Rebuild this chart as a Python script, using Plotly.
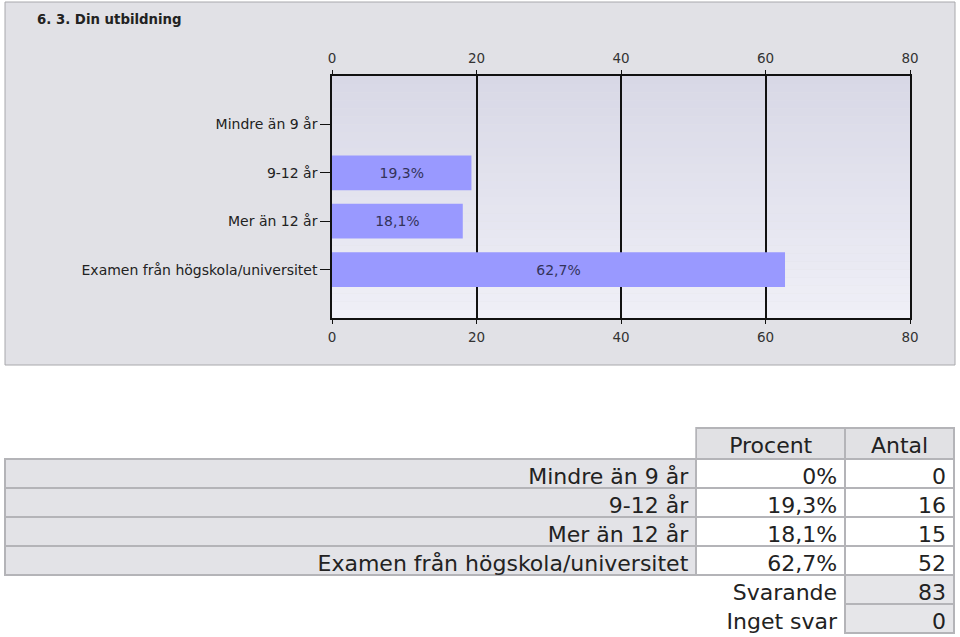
import plotly.graph_objects as go

# ---- data ----
title_text = "6. 3. Din utbildning"
categories = ["Mindre än 9 år", "9-12 år", "Mer än 12 år", "Examen från högskola/universitet"]
percent = [0.0, 19.3, 18.1, 62.7]
counts = [0, 16, 15, 52]
summary_labels = ["Svarande", "Inget svar"]
summary_values = [83, 0]
x_ticks = [0, 20, 40, 60, 80]
table_headers = ["", "Procent", "Antal"]

W, H = 960, 637
FONT = "DejaVu Sans"

def px_x(v):
    return v / W

def px_y(v):
    return (H - v) / H

def fmt_pct(v):
    s = f"{v:g}"
    return s.replace(".", ",") + "%"

bar_text = [fmt_pct(v) if v > 0 else "" for v in percent]

fig = go.Figure()

fig.add_trace(go.Bar(
    x=percent, y=categories, orientation="h",
    marker=dict(color="#9999ff", line=dict(width=0)),
    width=0.72,
    text=bar_text, textposition="inside", insidetextanchor="middle",
    textfont=dict(family=FONT, size=14, color="#33335a"),
    textangle=0,
    cliponaxis=False,
    hoverinfo="skip", showlegend=False,
))
# invisible trace to carry the top axis
fig.add_trace(go.Scatter(
    x=percent, y=categories, xaxis="x2", mode="markers",
    marker=dict(opacity=0), hoverinfo="skip", showlegend=False,
))

# table
n = len(categories)
gray_line = "#b4b4b8"
clear = "rgba(0,0,0,0)"
fig.add_trace(go.Table(
    domain=dict(x=[px_x(5), px_x(955)], y=[0, px_y(428)]),
    columnwidth=[692, 149, 109],
    header=dict(
        values=table_headers,
        fill=dict(color=[clear, "#e1e1e4", "#e1e1e4"]),
        line=dict(color=[clear, gray_line, gray_line], width=2),
        font=dict(family=FONT, size=22, color="#222222"),
        align="center", height=31,
    ),
    cells=dict(
        values=[
            categories + ["", ""],
            [fmt_pct(v) for v in percent] + summary_labels,
            [str(c) for c in counts] + [str(v) for v in summary_values],
        ],
        fill=dict(color=[
            ["#e3e3e7"] * n + [clear] * 2,
            ["white"] * n + [clear] * 2,
            ["white"] * n + ["#e6e6e9"] * 2,
        ]),
        line=dict(color=[
            [gray_line] * n + [clear] * 2,
            [gray_line] * n + [clear] * 2,
            [gray_line] * (n + 2),
        ], width=2),
        font=dict(family=FONT, size=22, color="#222222"),
        align="right", height=29,
    ),
))

# panel background and plot gradient
shapes = [dict(
    type="rect", xref="paper", yref="paper",
    x0=px_x(5), x1=px_x(955), y0=px_y(365), y1=px_y(2),
    fillcolor="#e1e1e6", line=dict(color="#a8a8ac", width=1), layer="below",
)]
top_c = (0xd8, 0xd8, 0xe6)
bot_c = (0xef, 0xef, 0xf7)
nb = 30
for i in range(nb):
    t = i / (nb - 1)
    c = tuple(int(round(top_c[k] + (bot_c[k] - top_c[k]) * t)) for k in range(3))
    shapes.append(dict(
        type="rect", xref="x domain", yref="y domain",
        x0=0, x1=1, y0=1 - (i + 1) / nb, y1=1 - i / nb,
        fillcolor="rgb(%d,%d,%d)" % c, line=dict(width=0), layer="below",
    ))

axis_font = dict(family=FONT, size=13.5, color="#333333")
common_x = dict(
    range=[0, 80], tickvals=x_ticks, ticks="outside", ticklen=4, tickcolor="#111",
    tickfont=axis_font, showline=True, linecolor="#111", linewidth=1.5,
    zeroline=False, fixedrange=True, automargin=False,
)

fig.update_layout(
    width=W, height=H,
    margin=dict(l=0, r=0, t=0, b=0, pad=0, autoexpand=False),
    paper_bgcolor="white",
    plot_bgcolor="rgba(0,0,0,0)",
    shapes=shapes,
    xaxis=dict(domain=[px_x(332), px_x(910)], anchor="y", side="bottom",
               showgrid=True, gridcolor="#111", gridwidth=1.5,
               ticklabelstandoff=2, **common_x),
    xaxis2=dict(overlaying="x", matches="x", anchor="y", side="top",
                showgrid=False, ticklabelstandoff=2, **common_x),
    yaxis=dict(domain=[px_y(318), px_y(76)], categoryorder="array",
               categoryarray=categories, range=[4, -1],
               ticks="outside", ticklen=10, tickcolor="#111",
               tickfont=dict(family=FONT, size=14, color="#222222"),
               showline=True, mirror=True, linecolor="#111", linewidth=1.5,
               showgrid=False, zeroline=False, fixedrange=True,
               ticklabelstandoff=0, automargin=False),
    annotations=[dict(
        text="<b>" + title_text + "</b>", xref="paper", yref="paper",
        x=px_x(35), y=px_y(20), xanchor="left", yanchor="middle",
        showarrow=False, font=dict(family=FONT, size=13.3, color="#222222"),
    )],
    bargap=0.28,
)

fig.write_html("out.html")
